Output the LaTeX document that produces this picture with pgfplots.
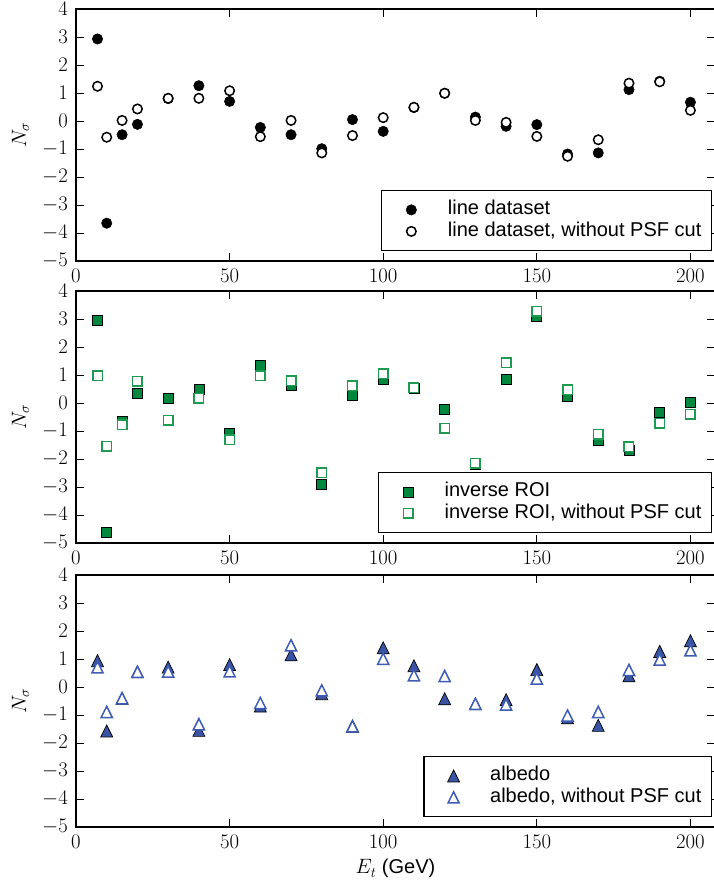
\documentclass[border=0pt]{standalone}
\usepackage[no-math]{fontspec}
\setmainfont{Liberation Sans}
\usepackage{pgfplots}
\pgfplotsset{compat=1.18}
\definecolor{gfill}{RGB}{0,135,62}
\definecolor{gedge}{RGB}{30,155,80}
\definecolor{bfill}{RGB}{58,84,164}
\definecolor{bedge}{RGB}{62,92,180}
\pgfdeclareplotmark{mtri}{%
 \pgfpathmoveto{\pgfpoint{0pt}{\pgfplotmarksize}}%
 \pgfpathlineto{\pgfpoint{-\pgfplotmarksize}{-\pgfplotmarksize}}%
 \pgfpathlineto{\pgfpoint{\pgfplotmarksize}{-\pgfplotmarksize}}%
 \pgfpathclose\pgfusepathqfillstroke}
\newcommand{\fz}{\fontsize{20}{24}\selectfont}
\pgfplotsset{panel/.style={
  scale only axis, width=639pt, height=252pt,
  xmin=0, xmax=208, ymin=-5, ymax=4,
  xtick={0,50,100,150,200}, ytick={-5,-4,...,4},
  tick align=inside, major tick length=8pt,
  tick style={line width=0.7pt, black},
  axis line style={line width=1.3pt},
  tick label style={font=\fz, inner sep=0pt},
  xticklabel style={yshift=-8pt},
  yticklabel style={xshift=-8pt},
  ylabel={$N_\sigma$},
  ylabel style={font=\fz, at={(axis description cs:-0.0782,0.5)}, anchor=base},
  legend cell align=left,
  legend style={at={(1,0)}, anchor=south east, xshift=-3pt, yshift=10pt,
    draw=black, line width=1.2pt, font=\fz, inner xsep=10pt, inner ysep=9pt,
    column sep=17pt, row sep=1.5pt,
    nodes={inner sep=0pt, text height=15pt, text depth=5pt}},
  legend image code/.code={\path (0pt,-6pt) (38pt,6pt);
    \draw[mark repeat=2,mark phase=2,##1] plot coordinates {(0pt,0pt)(19pt,0pt)(38pt,0pt)};},
}}
\begin{document}
\begin{tikzpicture}
% ---------- panel 1 ----------
\begin{axis}[panel, at={(76pt,623pt)}, anchor=south west]
\addplot[only marks, mark=*, mark size=5.2pt, mark options={fill=black, draw=black, line width=0.5pt}] coordinates {
(7,2.93)(10,-3.65)(15,-0.49)(20,-0.12)(30,0.80)(40,1.26)(50,0.70)(60,-0.23)(70,-0.49)(80,-0.99)(90,0.05)
(100,-0.37)(110,0.48)(120,0.99)(130,0.14)(140,-0.19)(150,-0.13)(160,-1.18)(170,-1.14)(180,1.12)(190,1.42)(200,0.67)};
\addlegendentry{line dataset}
\addplot[only marks, mark=*, mark size=4.75pt, mark options={fill=white, draw=black, line width=1.5pt}] coordinates {
(7,1.24)(10,-0.58)(15,0.02)(20,0.43)(30,0.81)(40,0.81)(50,1.08)(60,-0.56)(70,0.02)(80,-1.14)(90,-0.52)
(100,0.12)(110,0.49)(120,0.99)(130,0.02)(140,-0.05)(150,-0.55)(160,-1.26)(170,-0.67)(180,1.35)(190,1.40)(200,0.38)};
\addlegendentry{line dataset, without PSF cut}
\end{axis}
% ---------- panel 2 ----------
\begin{axis}[panel, at={(76pt,341pt)}, anchor=south west]
\addplot[only marks, mark=square*, mark size=5pt, mark options={fill=gfill, draw=black, line width=0.7pt}] coordinates {
(7,2.96)(10,-4.62)(15,-0.67)(20,0.35)(30,0.18)(40,0.47)(50,-1.08)(60,1.34)(70,0.62)(80,-2.91)(90,0.28)
(100,0.83)(110,0.54)(120,-0.23)(130,-2.18)(140,0.85)(150,3.08)(160,0.23)(170,-1.35)(180,-1.68)(190,-0.35)(200,0.04)};
\addlegendentry{inverse ROI}
\addplot[only marks, mark=square*, mark size=4.75pt, mark options={fill=white, draw=gedge, line width=1.5pt}] coordinates {
(7,0.97)(10,-1.55)(15,-0.78)(20,0.78)(30,-0.61)(40,0.17)(50,-1.31)(60,0.97)(70,0.79)(80,-2.49)(90,0.62)
(100,1.04)(110,0.54)(120,-0.90)(130,-2.16)(140,1.44)(150,3.28)(160,0.47)(170,-1.11)(180,-1.57)(190,-0.73)(200,-0.40)};
\addlegendentry{inverse ROI, without PSF cut}
\end{axis}
% ---------- panel 3 ----------
\begin{axis}[panel, at={(76pt,57pt)}, anchor=south west,
  xlabel={$E_t$ (GeV)},
  xlabel style={font=\fz, at={(axis description cs:0.5,-0.1865)}, anchor=base}]
\addplot[only marks, mark=mtri, mark size=6pt, mark options={fill=bfill, draw=black, line width=0.7pt}] coordinates {
(7,0.94)(10,-1.57)(15,-0.40)(20,0.54)(30,0.71)(40,-1.55)(50,0.80)(60,-0.68)(70,1.15)(80,-0.24)(90,-1.40)
(100,1.40)(110,0.76)(120,-0.42)(130,-0.60)(140,-0.45)(150,0.62)(160,-1.10)(170,-1.37)(180,0.40)(190,1.27)(200,1.65)};
\addlegendentry{albedo}
\addplot[only marks, mark=mtri, mark size=5.6pt, mark options={fill=white, draw=bedge, line width=1.5pt}] coordinates {
(7,0.70)(10,-0.89)(15,-0.40)(20,0.54)(30,0.55)(40,-1.33)(50,0.56)(60,-0.57)(70,1.49)(80,-0.12)(90,-1.40)
(100,1.01)(110,0.42)(120,0.39)(130,-0.60)(140,-0.63)(150,0.30)(160,-1.02)(170,-0.89)(180,0.61)(190,0.98)(200,1.31)};
\addlegendentry{albedo, without PSF cut}
\end{axis}
\pgfresetboundingbox
\useasboundingbox (0pt,0pt) rectangle (714pt,884pt);
\end{tikzpicture}
\end{document}
